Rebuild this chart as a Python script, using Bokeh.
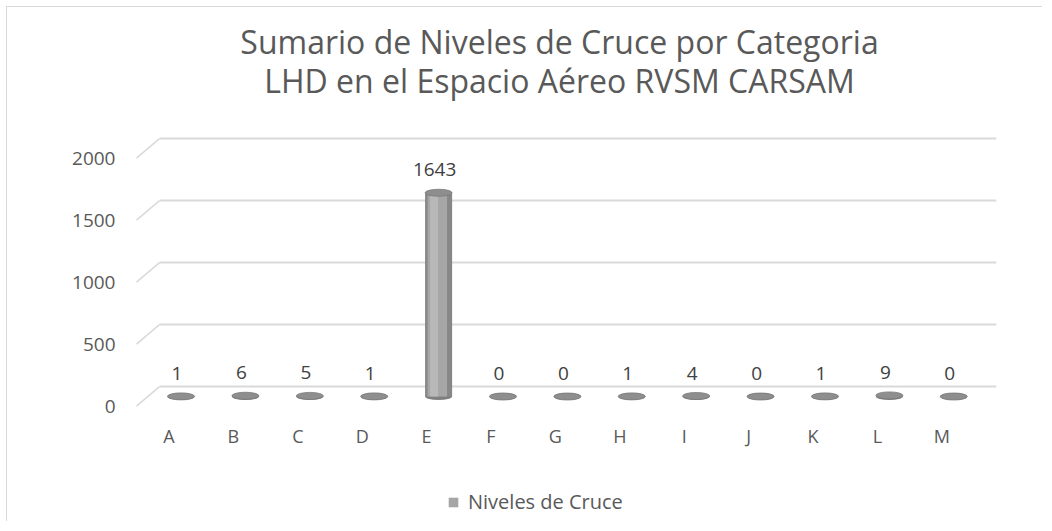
from bokeh.plotting import figure
from bokeh.models import Range1d, LinearAxis, FixedTicker, Label, Legend, LegendItem
from bokeh.core.properties import value
from bokeh.embed import file_html
from bokeh.resources import INLINE

categories = ["A", "B", "C", "D", "E", "F", "G", "H", "I", "J", "K", "L", "M"]
values = [1, 6, 5, 1, 1643, 0, 0, 1, 4, 0, 1, 9, 0]
y_ticks = [0, 500, 1000, 1500, 2000]
series_name = "Niveles de Cruce"
title_1 = "Sumario de Niveles de Cruce por Categoria"
title_2 = "LHD en el Espacio Aéreo RVSM CARSAM"

FONT = "Open Sans"
TXT = "#595959"
GRID = "#d9d9d9"

xs = list(range(len(categories)))
BACK = 80      # depth of back wall in data units
FRONT = 78     # depth of front edge in data units
BACK_LEFT = -0.334
FRONT_LEFT = -0.691
RIGHT = 12.66

Y0, Y1 = -1016, 3137
p = figure(width=1036, height=515, output_backend="svg", toolbar_location=None,
           x_range=Range1d(-0.80, 12.71), y_range=Range1d(Y0, Y1),
           min_border_left=122, min_border_right=44, min_border_top=0, min_border_bottom=0)
p.styles = {"border-left": "1.5px solid #d9d9d9", "border-top": "1.5px solid #d9d9d9",
            "margin-left": "6px", "margin-top": "6px"}
p.xaxis.visible = False
p.yaxis.visible = False
p.xgrid.visible = False
p.ygrid.visible = False
p.outline_line_color = None
p.background_fill_color = "white"

# front y axis (labels sit on the front edge)
p.extra_y_ranges = {"front": Range1d(Y0 + FRONT, Y1 + FRONT)}
ax = LinearAxis(y_range_name="front", ticker=FixedTicker(ticks=y_ticks))
ax.axis_line_color = None
ax.major_tick_line_color = None
ax.minor_tick_line_color = None
ax.major_tick_out = 0
ax.major_label_standoff = 14
ax.major_label_text_font = FONT
ax.major_label_text_font_size = "19px"
ax.major_label_text_color = TXT
p.add_layout(ax, "left")

# back wall gridlines and side-wall diagonals
back_y = [t + BACK for t in y_ticks]
front_y = [t - FRONT for t in y_ticks]
p.segment(x0=[BACK_LEFT] * len(y_ticks), y0=back_y, x1=[RIGHT] * len(y_ticks), y1=back_y,
          line_color=GRID, line_width=2)
p.segment(x0=[BACK_LEFT] * len(y_ticks), y0=back_y, x1=[FRONT_LEFT] * len(y_ticks), y1=front_y,
          line_color=GRID, line_width=1.5)

# cylinders
W = 0.42
p.ellipse(x=xs, y=[0] * len(xs), width=27, height=7, width_units="screen", height_units="screen",
          fill_color="#7f7f7f", line_color=None)
p.vbar(x=xs, top=values, bottom=0, width=W, fill_color="#878787", line_color=None)
mid = p.vbar(x=[x - 0.02 for x in xs], top=values, bottom=0, width=W * 0.72,
             fill_color="#a6a6a6", line_color=None)
p.vbar(x=[x - 0.07 for x in xs], top=values, bottom=0, width=W * 0.3,
       fill_color="#b8b8b8", line_color=None)
p.ellipse(x=xs, y=values, width=27, height=7, width_units="screen", height_units="screen",
          fill_color="#8e8e8e", line_color="#7a7a7a", line_width=0.8)

# data labels
p.text(x=xs, y=values, text=[str(v) for v in values], x_offset=-4, y_offset=-23,
       text_align="center", text_baseline="middle", text_font=value(FONT),
       text_font_size="19px", text_color="#404040")

# category labels
p.text(x=xs, y=[0] * len(xs), text=categories, x_offset=-12, y_offset=39,
       text_align="center", text_baseline="middle", text_font=value(FONT),
       text_font_size="18px", text_color=TXT)

legend = Legend(items=[LegendItem(label=series_name, renderers=[mid])], location=(318, 7),
                glyph_width=12, glyph_height=12, padding=0, margin=0, spacing=0,
                label_text_font=FONT, label_text_font_size="20px", label_text_color=TXT,
                border_line_color=None, background_fill_alpha=0, label_standoff=9)
p.add_layout(legend, "center")

# two-line chart title
for txt, ys in ((title_1, 481), (title_2, 442)):
    p.add_layout(Label(x=430, y=ys, x_units="screen", y_units="screen", text=txt,
                       text_align="center", text_baseline="middle", text_font=FONT,
                       text_font_size="32px", text_color=TXT))

open("out.html", "w").write(file_html(p, INLINE))
